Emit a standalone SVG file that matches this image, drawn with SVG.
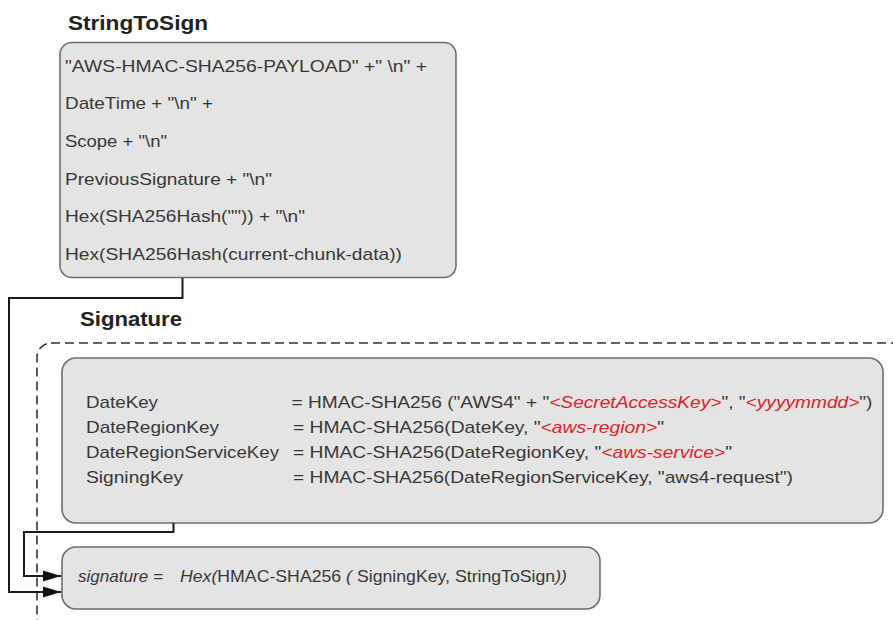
<svg xmlns="http://www.w3.org/2000/svg" width="893" height="620" viewBox="0 0 893 620">
<style>
.box{fill:#e4e4e4;stroke:#6e6e6e;stroke-width:1.6}
.t{font-family:"Liberation Sans",Arial,sans-serif;fill:#383838}
.b{font-size:17px}
.title{font-family:"Liberation Sans",Arial,sans-serif;font-weight:bold;font-size:20px;fill:#222}
.red{fill:#d9252b;font-style:italic}
.i{font-style:italic}
.con{fill:none;stroke:#1a1a1a;stroke-width:2}
.dash{fill:none;stroke:#333;stroke-width:1.6;stroke-dasharray:9 5}
</style>
<defs>
<marker id="ah" markerWidth="18" markerHeight="12" refX="18" refY="6" orient="auto" markerUnits="userSpaceOnUse">
<path d="M0,0.5 L18,6 L0,11.5 Z" fill="#111"/>
</marker>
</defs>
<rect class="dash" x="37" y="343" width="900" height="400" rx="14"/>
<g id="stringToSign">
<text class="title" x="68" y="30" textLength="140" lengthAdjust="spacingAndGlyphs">StringToSign</text>
<rect class="box" x="60" y="42.5" width="396" height="235" rx="12"/>
<text class="t b" x="65" y="71.5" textLength="362" lengthAdjust="spacingAndGlyphs">"AWS-HMAC-SHA256-PAYLOAD" +" \n" +</text>
<text class="t b" x="65" y="109.2" textLength="148" lengthAdjust="spacingAndGlyphs">DateTime + "\n" +</text>
<text class="t b" x="65" y="146.9" textLength="102" lengthAdjust="spacingAndGlyphs">Scope + "\n"</text>
<text class="t b" x="65" y="184.6" textLength="207" lengthAdjust="spacingAndGlyphs">PreviousSignature + "\n"</text>
<text class="t b" x="65" y="222.3" textLength="240" lengthAdjust="spacingAndGlyphs">Hex(SHA256Hash("")) + "\n"</text>
<text class="t b" x="65" y="260" textLength="337" lengthAdjust="spacingAndGlyphs">Hex(SHA256Hash(current-chunk-data))</text>
</g>
<g id="signingKeys">
<text class="title" x="80" y="326" textLength="102" lengthAdjust="spacingAndGlyphs">Signature</text>
<rect class="box" x="62" y="358" width="821" height="165" rx="14"/>
<text class="t b" x="86" y="408.3" textLength="72" lengthAdjust="spacingAndGlyphs">DateKey</text>
<text class="t b" x="86" y="433.3" textLength="133" lengthAdjust="spacingAndGlyphs">DateRegionKey</text>
<text class="t b" x="86" y="458.3" textLength="193" lengthAdjust="spacingAndGlyphs">DateRegionServiceKey</text>
<text class="t b" x="86" y="482.8" textLength="97" lengthAdjust="spacingAndGlyphs">SigningKey</text>
<text class="t b" x="291.5" y="408.3" textLength="581" lengthAdjust="spacingAndGlyphs">= HMAC-SHA256 ("AWS4" + "<tspan class="red">&lt;SecretAccessKey&gt;</tspan>", "<tspan class="red">&lt;yyyymmdd&gt;</tspan>")</text>
<text class="t b" x="293" y="433.3" textLength="371" lengthAdjust="spacingAndGlyphs">= HMAC-SHA256(DateKey, "<tspan class="red">&lt;aws-region&gt;</tspan>"</text>
<text class="t b" x="293" y="458.3" textLength="439" lengthAdjust="spacingAndGlyphs">= HMAC-SHA256(DateRegionKey, "<tspan class="red">&lt;aws-service&gt;</tspan>"</text>
<text class="t b" x="293" y="482.8" textLength="500" lengthAdjust="spacingAndGlyphs">= HMAC-SHA256(DateRegionServiceKey, "aws4-request")</text>
</g>
<g id="signature">
<rect class="box" x="62" y="547" width="538" height="62" rx="14"/>
<text class="t b i" x="78" y="582" textLength="85" lengthAdjust="spacingAndGlyphs">signature =</text>
<text class="t b" x="180" y="582" textLength="387" lengthAdjust="spacingAndGlyphs"><tspan class="i">Hex(</tspan>HMAC-SHA256 <tspan class="i">( </tspan>SigningKey, StringToSign<tspan class="i">))</tspan></text>
</g>
<g id="connectors">
<path class="con" d="M182.5,278 V298 H9 V592 H61" marker-end="url(#ah)"/>
<path class="con" d="M173.5,523 V532 H24 V576 H61" marker-end="url(#ah)"/>
</g>
</svg>
